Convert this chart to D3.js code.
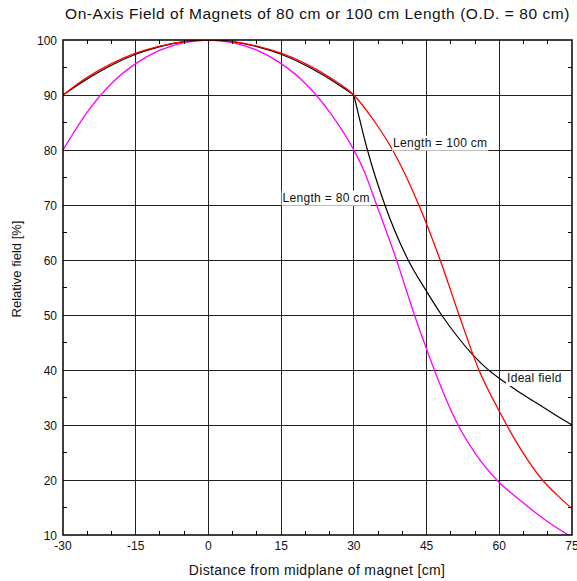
<!DOCTYPE html>
<html>
<head>
<meta charset="utf-8">
<script src="https://cdn.jsdelivr.net/npm/d3@7"></script>
<style>
  html, body { margin: 0; padding: 0; background: #fff; }
  svg { display: block; font-family: "Liberation Sans", Arial, Helvetica, sans-serif; }
</style>
</head>
<body>
<svg id="chart" width="577" height="581"></svg>
<script>
// ---------- data ----------
const titleText = "On-Axis Field of Magnets of 80 cm or 100 cm Length (O.D. = 80 cm)";
const xTitle = "Distance from midplane of magnet [cm]";
const yTitle = "Relative field [%]";

const xTicks = [-30, -15, 0, 15, 30, 45, 60, 75];
const yTicks = [10, 20, 30, 40, 50, 60, 70, 80, 90, 100];

// Ideal field (black): inside region and fringe region (kink at 30 cm)
const idealInX = [-30, -25, -20, -15, -10, -5, 0, 5, 10, 15, 20, 25, 30];
const idealInV = [90, 92.9, 95.4, 97.4, 98.8, 99.7, 100, 99.7, 98.8, 97.4, 95.4, 92.9, 90];
const idealOutX = [30, 32.8, 36.4, 41.2, 45, 48.1, 51, 54.6, 57.5, 60, 63.75, 67.5, 71.25, 75];
const idealOutV = [90, 80, 70, 60, 54.3, 50, 46.5, 42.7, 40.2, 38.5, 36.2, 34.1, 32.0, 30];

// Length = 100 cm (red)
const redX = [-30, -25, -20, -15, -10, -5, 0, 5, 10, 15, 20, 25, 30, 34, 38, 43.4, 47.8, 51.7, 55.8, 60, 65, 68.9, 72, 75];
const redV = [90, 93.2, 95.7, 97.6, 98.9, 99.72, 100, 99.72, 98.9, 97.6, 95.7, 93.2, 90, 85.5, 80, 70, 60, 50, 40, 32.5, 24.8, 20, 17.2, 14.8];

// Length = 80 cm (magenta)
const magX = [-30, -25, -20, -15, -10, -5, 0, 5, 10, 15, 20, 25, 30, 32, 34.7, 38.8, 42.5, 45, 46.6, 51.5, 55, 59.5, 65, 70, 75];
const magV = [80, 86.9, 92.1, 95.7, 98.15, 99.54, 100, 99.54, 98.15, 95.7, 92.1, 86.9, 80, 76.4, 70, 60, 50, 43.8, 40, 30, 24.9, 20, 15.8, 12.4, 9.6];

const labels = [
  { text: "Length = 100 cm", x: 38.1, v: 80.6 },
  { text: "Length = 80 cm",  x: 15.3, v: 70.6 },
  { text: "Ideal field",     x: 61.6, v: 37.8 }
];

// ---------- layout ----------
const W = 577, H = 581;
const m = { left: 63, right: 5, top: 40, bottom: 46 };
const iw = W - m.left - m.right, ih = H - m.top - m.bottom;

const svg = d3.select("#chart");
const x = d3.scaleLinear().domain([-30, 75]).range([m.left, m.left + iw]);
const y = d3.scaleLinear().domain([10, 100]).range([m.top + ih, m.top]);

svg.append("defs").append("clipPath").attr("id", "plotclip")
  .append("rect").attr("x", m.left).attr("y", m.top).attr("width", iw).attr("height", ih);

// grid
const grid = svg.append("g").attr("stroke", "#222").attr("stroke-width", 1).attr("shape-rendering", "crispEdges");
grid.selectAll("line.vx").data(xTicks.slice(1, -1)).join("line")
  .attr("x1", d => x(d)).attr("x2", d => x(d)).attr("y1", m.top).attr("y2", m.top + ih);
grid.selectAll("line.hy").data(yTicks.slice(1, -1)).join("line")
  .attr("y1", d => y(d)).attr("y2", d => y(d)).attr("x1", m.left).attr("x2", m.left + iw);

// curves
const line = d3.line().x(d => x(d[0])).y(d => y(d[1])).curve(d3.curveMonotoneX);
const curves = svg.append("g").attr("clip-path", "url(#plotclip)").attr("fill", "none");
curves.append("path").attr("d", line(d3.zip(magX, magV))).attr("stroke", "#ff00ff").attr("stroke-width", 1.3);
curves.append("path").attr("d", line(d3.zip(idealInX, idealInV))).attr("stroke", "#000").attr("stroke-width", 1.2);
curves.append("path").attr("d", line(d3.zip(idealOutX, idealOutV))).attr("stroke", "#000").attr("stroke-width", 1.2);
curves.append("path").attr("d", line(d3.zip(redX, redV))).attr("stroke", "#ff0000").attr("stroke-width", 1.3);

// labels with white background
const lg = svg.append("g");
labels.forEach(l => {
  const g = lg.append("g");
  const rect = g.append("rect").attr("fill", "#fff");
  const t = g.append("text").attr("x", x(l.x)).attr("y", y(l.v))
    .attr("font-size", 12).attr("letter-spacing", 0.3).attr("fill", "#111").text(l.text);
  const bb = t.node().getBBox();
  rect.attr("x", bb.x - 1).attr("y", bb.y).attr("width", bb.width + 2).attr("height", bb.height + 1);
});

// frame
svg.append("rect").attr("x", m.left).attr("y", m.top).attr("width", iw).attr("height", ih)
  .attr("fill", "none").attr("stroke", "#000").attr("stroke-width", 1.5);

// minor ticks (inward) on all four sides
const tk = svg.append("g").attr("stroke", "#000").attr("stroke-width", 1).attr("shape-rendering", "crispEdges");
const xMinor = d3.range(-30, 76, 5).filter(v => v % 15 !== 0);
const yMinor = d3.range(15, 100, 10);
const tl = 4;
tk.selectAll("line.xb").data(xMinor).join("line")
  .attr("x1", d => x(d)).attr("x2", d => x(d)).attr("y1", m.top + ih).attr("y2", m.top + ih - tl);
tk.selectAll("line.xt").data(xMinor).join("line")
  .attr("x1", d => x(d)).attr("x2", d => x(d)).attr("y1", m.top).attr("y2", m.top + tl);
tk.selectAll("line.yl").data(yMinor).join("line")
  .attr("y1", d => y(d)).attr("y2", d => y(d)).attr("x1", m.left).attr("x2", m.left + tl);
tk.selectAll("line.yr").data(yMinor).join("line")
  .attr("y1", d => y(d)).attr("y2", d => y(d)).attr("x1", m.left + iw).attr("x2", m.left + iw - tl);

// tick labels
svg.append("g").selectAll("text").data(xTicks).join("text")
  .attr("x", d => x(d)).attr("y", m.top + ih + 15).attr("text-anchor", "middle")
  .attr("font-size", 12).attr("fill", "#111").text(d => d);
svg.append("g").selectAll("text").data(yTicks).join("text")
  .attr("x", m.left - 6).attr("y", d => y(d) + 4.5).attr("text-anchor", "end")
  .attr("font-size", 12).attr("fill", "#111").text(d => d);

// titles
svg.append("text").attr("x", m.left + iw / 2).attr("y", 19).attr("text-anchor", "middle")
  .attr("font-size", 15.5).attr("letter-spacing", 0.55).attr("fill", "#111").text(titleText);
svg.append("text").attr("x", m.left + iw / 2 - 0.5).attr("y", 575).attr("text-anchor", "middle")
  .attr("font-size", 14).attr("letter-spacing", 0.35).attr("fill", "#111").text(xTitle);
svg.append("text").attr("transform", "translate(21,269) rotate(-90)").attr("text-anchor", "middle")
  .attr("font-size", 13).attr("fill", "#111").text(yTitle);
</script>
</body>
</html>
